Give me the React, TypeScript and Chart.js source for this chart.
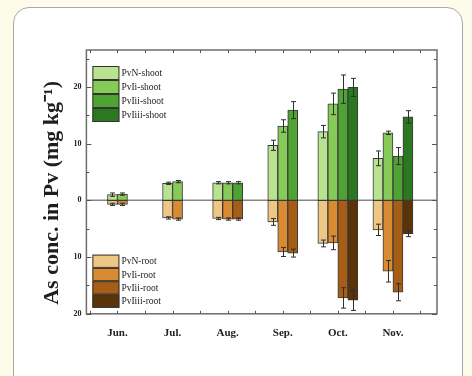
import React, { useEffect, useRef } from "react";
import { Chart, registerables } from "chart.js";

Chart.register(...registerables);

const months = ["Jun.", "Jul.", "Aug.", "Sep.", "Oct.", "Nov."];
const yTickValues = [-20, -10, 0, 10, 20];

const shootLabels = ["PvN-shoot", "PvIi-shoot", "PvIii-shoot", "PvIiii-shoot"];
const rootLabels = ["PvN-root", "PvIi-root", "PvIii-root", "PvIiii-root"];
const stacks = ["N", "Ii", "Iii", "Iiii"];

const pvNShoot = [1.0, 3.0, 3.1, 9.7, 12.1, 7.4];
const pvNShootErr = [0.3, 0.2, 0.2, 0.9, 1.1, 1.3];
const pvIiShoot = [1.1, 3.3, 3.1, 13.1, 17.0, 11.9];
const pvIiShootErr = [0.2, 0.2, 0.2, 1.1, 1.9, 0.3];
const pvIiiShoot = [null, null, 3.1, 15.9, 19.6, 7.8];
const pvIiiShootErr = [null, null, 0.2, 1.5, 2.5, 1.5];
const pvIiiiShoot = [null, null, null, null, 19.9, 14.7];
const pvIiiiShootErr = [null, null, null, null, 1.6, 1.1];

const pvNRoot = [-0.7, -3.1, -3.2, -3.8, -7.6, -5.2];
const pvNRootErr = [0.2, 0.2, 0.2, 0.6, 0.6, 1.0];
const pvIiRoot = [-0.7, -3.3, -3.3, -9.1, -7.5, -12.5];
const pvIiRootErr = [0.2, 0.2, 0.2, 0.8, 1.2, 1.9];
const pvIiiRoot = [null, null, -3.3, -9.3, -17.2, -16.2];
const pvIiiRootErr = [null, null, 0.2, 0.7, 1.8, 1.5];
const pvIiiiRoot = [null, null, null, null, -17.6, -5.9];
const pvIiiiRootErr = [null, null, null, null, 1.8, 0.5];

const shootColors = ["#b9e291", "#86cb58", "#4fa334", "#2c7821"];
const rootColors = ["#efc784", "#d98b31", "#a65e17", "#5b3309"];

const SERIF = "'Liberation Serif', 'Times New Roman', serif";

const framePlugin = {
  id: "frame",
  beforeDatasetsDraw(chart: any) {
    const { ctx, chartArea: a, scales } = chart;
    const y0 = scales.y.getPixelForValue(0);
    ctx.save();
    ctx.strokeStyle = "#868686";
    ctx.lineWidth = 1.5;
    ctx.beginPath();
    ctx.moveTo(a.left, y0);
    ctx.lineTo(a.right, y0);
    ctx.stroke();
    ctx.restore();
  },
  afterDatasetsDraw(chart: any) {
    const { ctx, chartArea: a, scales } = chart;
    const y = scales.y;
    const x = scales.x;
    ctx.save();
    // error bars
    ctx.strokeStyle = "#2e2e2e";
    ctx.lineWidth = 1;
    chart.data.datasets.forEach((ds: any, di: number) => {
      const meta = chart.getDatasetMeta(di);
      ds.errors.forEach((e: number | null, j: number) => {
        const v = ds.data[j].y;
        if (v == null || e == null) return;
        const el = meta.data[j];
        if (!el) return;
        const cx = Math.round(el.x) + 0.5;
        const yt = y.getPixelForValue(v + e);
        const yb = y.getPixelForValue(v - e);
        ctx.beginPath();
        ctx.moveTo(cx, yt);
        ctx.lineTo(cx, yb);
        ctx.moveTo(cx - 2.5, yt);
        ctx.lineTo(cx + 2.5, yt);
        ctx.moveTo(cx - 2.5, yb);
        ctx.lineTo(cx + 2.5, yb);
        ctx.stroke();
      });
    });
    // frame
    ctx.strokeStyle = "#6e6e6e";
    ctx.lineWidth = 1.5;
    ctx.strokeRect(a.left, a.top, a.right - a.left, a.bottom - a.top);
    // ticks
    ctx.lineWidth = 1;
    ctx.strokeStyle = "#555";
    ctx.beginPath();
    for (let v = -20; v <= 25; v += 5) {
      const py = Math.round(y.getPixelForValue(v)) + 0.5;
      const len = v % 10 === 0 ? 5 : 3;
      ctx.moveTo(a.left, py);
      ctx.lineTo(a.left + len, py);
      ctx.moveTo(a.right, py);
      ctx.lineTo(a.right - len, py);
    }
    for (let v = 0.5; v <= 6.5; v += 0.5) {
      const px = Math.round(x.getPixelForValue(v)) + 0.5;
      ctx.moveTo(px, a.bottom);
      ctx.lineTo(px, a.bottom - 3);
      ctx.moveTo(px, a.top);
      ctx.lineTo(px, a.top + 3);
    }
    ctx.stroke();
    ctx.restore();
  },
};

const legendPlugin = {
  id: "twoLegends",
  afterDraw(chart: any) {
    const { ctx, chartArea: a } = chart;
    const ds = chart.data.datasets;
    const sw = 27;
    const groups = [
      { idx: [0, 1, 2, 3], top: a.top + 16, h: 14 },
      { idx: [4, 5, 6, 7], top: a.bottom - 6 - 4 * 13.3, h: 13.3 },
    ];
    const x0 = a.left + 6;
    ctx.save();
    ctx.font = `9.5px ${SERIF}`;
    ctx.textBaseline = "middle";
    ctx.textAlign = "left";
    groups.forEach((g) => {
      g.idx.forEach((k, n) => {
        const yy = g.top + n * g.h;
        ctx.fillStyle = ds[k].backgroundColor;
        ctx.fillRect(x0, yy, sw, g.h);
        ctx.strokeStyle = "#333";
        ctx.lineWidth = 1;
        ctx.strokeRect(x0 + 0.5, yy + 0.5, sw - 1, g.h - 1);
        ctx.fillStyle = "#222";
        ctx.fillText(ds[k].label, x0 + sw + 2, yy + g.h / 2 + 0.5);
      });
    });
    ctx.restore();
  },
};

export default function App() {
  const ref = useRef<HTMLCanvasElement>(null);
  useEffect(() => {
    const canvas = ref.current;
    if (!canvas) return;
    const mk = (arr: (number | null)[]) => arr.map((v, i) => ({ x: i + 1, y: v }));
    const shootVals = [pvNShoot, pvIiShoot, pvIiiShoot, pvIiiiShoot];
    const shootErrs = [pvNShootErr, pvIiShootErr, pvIiiShootErr, pvIiiiShootErr];
    const rootVals = [pvNRoot, pvIiRoot, pvIiiRoot, pvIiiiRoot];
    const rootErrs = [pvNRootErr, pvIiRootErr, pvIiiRootErr, pvIiiiRootErr];
    const datasets: any[] = [];
    shootVals.forEach((vals, i) =>
      datasets.push({
        label: shootLabels[i],
        data: mk(vals),
        errors: shootErrs[i],
        backgroundColor: shootColors[i],
        stack: stacks[i],
      })
    );
    rootVals.forEach((vals, i) =>
      datasets.push({
        label: rootLabels[i],
        data: mk(vals),
        errors: rootErrs[i],
        backgroundColor: rootColors[i],
        stack: stacks[i],
      })
    );
    datasets.forEach((d) => {
      d.borderColor = "#3a3a3a";
      d.borderWidth = 1;
      d.borderSkipped = false;
      d.barThickness = 10;
      d.skipNull = true;
    });

    const chart = new Chart(canvas, {
      type: "bar",
      data: { datasets },
      options: {
        responsive: false,
        animation: false,
        events: [],
        layout: { padding: { left: 39, right: 35, top: 50, bottom: 23 } },
        plugins: { legend: { display: false }, tooltip: { enabled: false } },
        scales: {
          x: {
            type: "linear",
            offset: false,
            min: 0.436,
            max: 6.8,
            grid: { display: false, drawTicks: false, offset: false },
            border: { display: false },
            afterBuildTicks: (s: any) => {
              s.ticks = months.map((_, i) => ({ value: i + 1 }));
            },
            ticks: {
              autoSkip: false,
              maxRotation: 0,
              padding: 13,
              color: "#222",
              font: { family: SERIF, size: 11, weight: "bold" },
              callback: (v: any) => months[Math.round(Number(v)) - 1] ?? "",
            },
          },
          y: {
            stacked: true,
            min: -20,
            max: 26.5,
            grid: { display: false, drawTicks: false },
            border: { display: false },
            afterBuildTicks: (s: any) => {
              s.ticks = yTickValues.map((v) => ({ value: v }));
            },
            ticks: {
              padding: 5,
              color: "#222",
              font: { family: SERIF, size: 8, weight: "bold" },
              callback: (v: any) => String(Math.abs(Number(v))),
            },
            title: {
              display: true,
              text: "As conc. in Pv (mg kg\u207B\u00B9)    ",
              color: "#1e1e1e",
              font: { family: SERIF, size: 22, weight: "bold" },
              padding: { top: 0, bottom: 3 },
            },
          },
        },
      } as any,
      plugins: [framePlugin, legendPlugin],
    });
    return () => chart.destroy();
  }, []);

  return (
    <div
      style={{
        position: "fixed",
        left: 0,
        top: 0,
        width: 472,
        height: 376,
        background: "#fdfbea",
        overflow: "hidden",
      }}
    >
      <div
        style={{
          position: "absolute",
          left: 13,
          top: 7,
          width: 450,
          height: 420,
          background: "#ffffff",
          border: "1px solid #a9a9a9",
          borderRadius: 16,
          boxSizing: "border-box",
        }}
      />
      <canvas
        ref={ref}
        width={472}
        height={376}
        style={{ position: "absolute", left: 0, top: 0, width: 472, height: 376 }}
      />
    </div>
  );
}
